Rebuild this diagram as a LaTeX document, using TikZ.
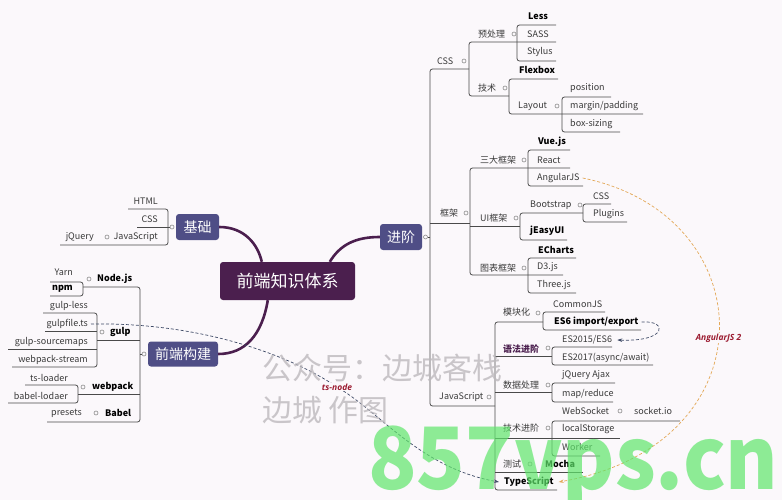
\documentclass[tikz,border=0pt]{standalone}
\usepackage{fontspec}
\setmainfont{Noto Sans CJK SC}
\newfontfamily\relfont{Open Sans}
\usetikzlibrary{arrows.meta}

\definecolor{bgcol}{HTML}{FBF8FB}
\definecolor{rootcol}{HTML}{4B1F4E}
\definecolor{topiccol}{HTML}{4F4E86}
\definecolor{brcol}{HTML}{4A4A4A}
\definecolor{txtcol}{HTML}{3A3A3A}
\definecolor{knobcol}{HTML}{8A8A8A}
\definecolor{reldark}{HTML}{3E4A66}
\definecolor{relorange}{HTML}{E3A857}
\definecolor{relred}{HTML}{9B1B30}
\definecolor{wmgray}{HTML}{BDB9BD}
\definecolor{wmgreen}{HTML}{5FE66B}

\tikzset{
  lbl/.style={inner sep=0pt, text=txtcol, font=\fontsize{9}{10}\selectfont},
  blbl/.style={inner sep=0pt, text=black, font=\fontsize{9}{10}\selectfont\bfseries},
  br/.style={draw=brcol, line width=0.8pt, rounded corners=2.5pt},
  knob/.style={circle, draw=knobcol, fill=bgcol, line width=0.6pt, inner sep=0pt, minimum size=4pt},
  rootbox/.style={fill=rootcol, text=white, rounded corners=3pt, minimum width=135pt, minimum height=38pt, font=\fontsize{17}{19}\selectfont},
  topic/.style={fill=topiccol, text=white, rounded corners=3pt, minimum height=26pt, font=\fontsize{14}{16}\selectfont},
  branch/.style={draw=rootcol, line width=2.6pt},
  rel/.style={dash pattern=on 3pt off 2pt, line width=0.7pt, -{Stealth[length=5pt,width=3.5pt]}},
  rellabel/.style={fill=bgcol, inner sep=1pt, text=relred, font=\relfont\fontsize{8.5}{10}\selectfont\bfseries\itshape},
  wm/.style={inner sep=0pt, text=wmgray, text opacity=0.8, font=\fontsize{30}{32}\selectfont},
}

\begin{document}
\begin{tikzpicture}[x=1pt,y=-1pt]
\fill[bgcol] (0,0) rectangle (782,500);
\useasboundingbox (0,0) rectangle (782,500);

% main topics
\node[rootbox] (root) at (287.5,281) {前端知识体系};
\node[topic, minimum width=43pt] (jichu) at (197.5,227) {基础};
\node[topic, minimum width=70pt, minimum height=25pt] (goujian) at (183,354) {前端构建};
\node[topic, minimum width=42pt] (jinjie) at (401,237) {进阶};

\draw[branch] (jichu.east) .. controls (245,227) and (258,245) .. ([xshift=42pt]root.north west);
\draw[branch] ([xshift=110pt]root.north west) .. controls (340,245) and (355,237) .. (jinjie.west);
\draw[branch] ([xshift=48pt]root.south west) .. controls (262,335) and (245,354) .. (goujian.east);

%% 基础
\node[knob] (kjichu) at (172,227) {};
\draw[br] (128,209) -- (168,209) -- (168,245) -- (60,245);
\draw[br] (137,227) -- (kjichu);
\node[lbl, anchor=east] (html) at (158,201) {HTML};
\node[lbl, anchor=east] (css0) at (158,219) {CSS};
\node[lbl, anchor=east] (js0) at (158,237) {JavaScript};
\node[knob] at (107,237) {};
\node[lbl, anchor=east] (jquery) at (94,237) {jQuery};

%% 前端构建
\node[knob] (kgoujian) at (144,354) {};
\draw[br] (kgoujian) -- (140,354);
\draw[br] (83,287) -- (140,287) -- (140,422) -- (47,422);
\draw[br] (97,340) -- (140,340);
\draw[br] (78,394) -- (140,394);

\node[blbl, anchor=west] (nodejs) at (97,279) {Node.js};
\node[knob] at (89,279) {};
\draw[br] (50,282) -- (83,282) -- (83,296) -- (50,296);
\node[lbl, anchor=east] (yarn) at (73,272) {Yarn};
\node[blbl, anchor=east] (npm) at (73,289) {npm};

\node[blbl, anchor=west] (gulp) at (110,332) {gulp};
\node[knob] at (102,332) {};
\draw[br] (43,313) -- (97,313) -- (97,367) -- (12,367);
\draw[br] (45,331) -- (97,331);
\draw[br] (8,349) -- (97,349);
\node[lbl, anchor=east] (gulpless) at (88,306) {gulp-less};
\node[lbl, anchor=east] (gulpfile) at (88,324) {gulpfile.ts};
\node[lbl, anchor=east] (gulpmaps) at (88,342) {gulp-sourcemaps};
\node[lbl, anchor=east] (wpstream) at (88,360) {webpack-stream};

\node[blbl, anchor=west] (webpack) at (92,387) {webpack};
\node[knob] at (83,387) {};
\draw[br] (25,385) -- (78,385) -- (78,403) -- (8,403);
\node[lbl, anchor=east] (tsloader) at (68,378) {ts-loader};
\node[lbl, anchor=east] (babelloader) at (68,396) {babel-lodaer};

\node[blbl, anchor=west] (babel) at (105,413) {Babel};
\node[knob] at (96,413) {};
\node[lbl, anchor=east] (presets) at (82,413) {presets};

%% 进阶
\node[knob] (kjinjie) at (425.5,237) {};
\draw[br] (kjinjie) -- (430,237);
\draw[br] (469,69) -- (430,69) -- (430,406) -- (495,406);
\draw[br] (430,223) -- (470,223);

% CSS
\node[lbl, anchor=west] (css) at (437,61) {CSS};
\node[knob] at (464,61) {};
\draw[br] (556,42) -- (469,42) -- (469,96) -- (509,96);
\node[lbl, anchor=west] (yuchuli) at (478,34) {预处理};
\node[knob] at (514,34) {};
\draw[br] (556,25) -- (517,25) -- (517,61) -- (556,61);
\node[blbl, anchor=west] (less) at (528,16) {Less};
\node[lbl, anchor=west] (sass) at (527,34) {SASS};
\node[lbl, anchor=west] (stylus) at (527,52) {Stylus};
\node[lbl, anchor=west] (jishu) at (478,88) {技术};
\node[knob] at (505,88) {};
\draw[br] (558,79) -- (509,79) -- (509,114) -- (643,114);
\node[blbl, anchor=west] (flexbox) at (519,70) {Flexbox};
\node[lbl, anchor=west] (layout) at (518,106) {Layout};
\node[knob] at (557,106) {};
\draw[br] (611,97) -- (562,97) -- (562,132) -- (620,132);
\node[lbl, anchor=west] (position) at (570,88) {position};
\node[lbl, anchor=west] (margin) at (570,106) {margin/padding};
\node[lbl, anchor=west] (boxsizing) at (570,124) {box-sizing};

% 框架
\node[lbl, anchor=west] (kuangjia) at (440,213) {框架};
\node[knob] at (466,213) {};
\draw[br] (570,168) -- (470,168) -- (470,275) -- (563,275);
\draw[br] (470,226) -- (520,226);
\node[lbl, anchor=west] (sanda) at (480,160) {三大框架};
\node[knob] at (524,160) {};
\draw[br] (570,150) -- (528,150) -- (528,186) -- (583,186);
\node[blbl, anchor=west] (vue) at (538,142) {Vue.js};
\node[lbl, anchor=west] (react) at (537,160) {React};
\node[lbl, anchor=west] (angular) at (537,178) {AngularJS};
\node[lbl, anchor=west] (ui) at (480,218) {UI框架};
\node[knob] at (516,218) {};
\draw[br] (583,213) -- (520,213) -- (520,240) -- (567,240);
\node[lbl, anchor=west] (bootstrap) at (530,205) {Bootstrap};
\node[knob] at (580,205) {};
\draw[br] (611,204) -- (583,204) -- (583,222) -- (627,222);
\node[lbl, anchor=west] (bscss) at (593,196) {CSS};
\node[lbl, anchor=west] (plugins) at (593,214) {Plugins};
\node[blbl, anchor=west] (easyui) at (530,231) {jEasyUI};
\node[lbl, anchor=west] (tubiao) at (480,268) {图表框架};
\node[knob] at (524,268) {};
\draw[br] (576,258) -- (528,258) -- (528,293) -- (576,293);
\node[blbl, anchor=west] (echarts) at (538,250) {ECharts};
\node[lbl, anchor=west] (d3) at (537,267) {D3.js};
\node[lbl, anchor=west] (three) at (537,285) {Three.js};

% JavaScript
\node[lbl, anchor=west] (js) at (439,397) {JavaScript};
\node[knob] at (489,397) {};
\draw[br] (543,322) -- (495,322) -- (495,490) -- (557,490);
\draw[br] (495,356) -- (552,356);
\draw[br] (495,392) -- (552,392);
\draw[br] (495,438) -- (620,438);
\draw[br] (495,472) -- (583,472);
\node[lbl, anchor=west] (mokuai) at (503,312) {模块化};
\node[knob] at (538,313) {};
\draw[br] (605,312) -- (543,312) -- (543,330) -- (641,330);
\node[lbl, anchor=west] (commonjs) at (553,304) {CommonJS};
\node[blbl, anchor=west] (es6) at (554,322) {ES6 import/export};
\node[blbl, anchor=west, text=rootcol] (yufa) at (503,349) {语法进阶};
\node[knob] at (548,348) {};
\draw[br] (612,347) -- (552,347) -- (552,365) -- (653,365);
\node[lbl, anchor=west] (es2015) at (562,340) {ES2015/ES6};
\node[lbl, anchor=west] (es2017) at (562,358) {ES2017(async/await)};
\node[lbl, anchor=west] (shuju) at (503,385) {数据处理};
\node[knob] at (548,385) {};
\draw[br] (615,383) -- (552,383) -- (552,402) -- (613,402);
\node[lbl, anchor=west] (ajax) at (562,375) {jQuery Ajax};
\node[lbl, anchor=west] (mapreduce) at (562,394) {map/reduce};
\node[lbl, anchor=west] (jishujinjie) at (503,428) {技术进阶};
\node[knob] at (548,428) {};
\draw[br] (680,421) -- (552,421) -- (552,456) -- (600,456);
\node[lbl, anchor=west] (websocket) at (562,411) {WebSocket};
\node[knob] at (620,411) {};
\node[lbl, anchor=west] (socketio) at (634,411) {socket.io};
\node[lbl, anchor=west] (storage) at (562,429) {localStorage};
\node[lbl, anchor=west] (worker) at (562,447) {Worker};
\node[lbl, anchor=west] (ceshi) at (503,464) {测试};
\node[knob] at (530,464) {};
\node[blbl, anchor=west] (mocha) at (545,464) {Mocha};
\node[blbl, anchor=west] (ts) at (504,482) {TypeScript};

%% relationships
\draw[rel, draw=reldark] ([xshift=3pt]es6.east) .. controls (668,320) and (668,342) .. ([xshift=5pt]es2015.east);
\draw[rel, draw=relorange] ([xshift=3pt]angular.east) .. controls (765,215) and (772,445) .. ([xshift=5pt]ts.east) node[rellabel, pos=0.52] (ng2) {AngularJS 2};
\draw[rel, draw=reldark] ([xshift=3pt]gulpfile.east) .. controls (200,322) and (290,355) .. (337,387) node[rellabel] (tsnode) {ts-node} .. controls (380,412) and (420,468) .. ([xshift=-5pt]ts.west);

%% watermarks
\node[wm, anchor=west] at (262,368) {公众号：边城客栈};
\node[wm, anchor=west] at (262,410) {边城\ 作图};
\node[anchor=base west, inner sep=0pt, text=wmgreen, text opacity=0.7, font=\fontsize{86}{86}\selectfont\bfseries] at (368,489) {\scalebox{0.93}[1]{857vps.cn}};
\end{tikzpicture}
\end{document}
